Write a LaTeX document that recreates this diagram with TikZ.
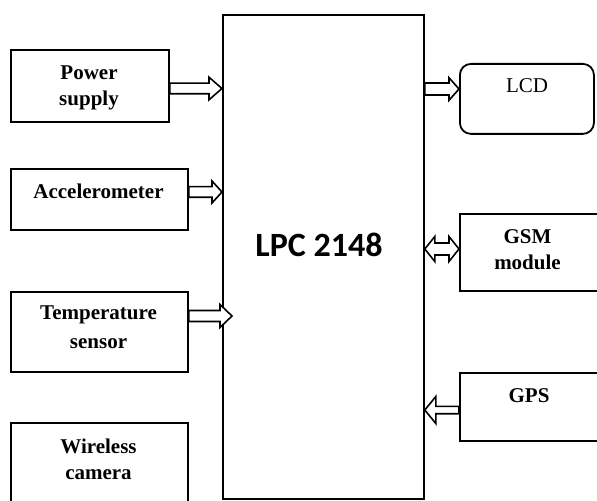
\documentclass[tikz,border=0pt]{standalone}
\usepackage{fontspec}
\setmainfont{Liberation Serif}
\newfontfamily\lpcfont{Carlito}
\usetikzlibrary{calc}
\tikzset{
  blk/.style={draw=black, line width=1.6bp, fill=white, line join=miter},
  box/.style={draw=black, line width=1.8bp, inner sep=0, anchor=north west},
  lbl/.style={font=\fontsize{21bp}{26bp}\selectfont\bfseries, inner sep=0, anchor=base},
}
% #1 start, #2 tip, #3 shaft half width, #4 head half width, #5 head length, #6 direction (1 right, -1 left)
\newcommand\blockarr[6]{%
  \draw[blk] ($(#1)+(0,-#3)$) -- ($(#2)+({-#6*#5},-#3)$) -- ($(#2)+({-#6*#5},-#4)$) -- (#2)
    -- ($(#2)+({-#6*#5},#4)$) -- ($(#2)+({-#6*#5},#3)$) -- ($(#1)+(0,#3)$) -- cycle;}
\newcommand\twoarr[5]{%
  \draw[blk] (#1) -- ($(#1)+(#5,-#4)$) -- ($(#1)+(#5,-#3)$) -- ($(#2)+(-#5,-#3)$) -- ($(#2)+(-#5,-#4)$) -- (#2)
    -- ($(#2)+(-#5,#4)$) -- ($(#2)+(-#5,#3)$) -- ($(#1)+(#5,#3)$) -- ($(#1)+(#5,#4)$) -- cycle;}
\begin{document}
\begin{tikzpicture}[x=1bp,y=-1bp]
\useasboundingbox (0,0) rectangle (597,501);
\clip (0,0) rectangle (597,501);
% central block
\node[box, minimum width=201bp, minimum height=484bp] (mcu) at (222,14) {};
\node[font=\fontsize{34bp}{40bp}\selectfont\lpcfont\bfseries, inner sep=0, anchor=base] (mcutxt) at (319,256) {LPC 2148};
% left blocks
\node[box, minimum width=158bp, minimum height=72bp] (ps) at (10,49) {};
\node[lbl] (pstxt) at (89,80) {\begin{tabular}[t]{@{}c@{}}Power\\supply\end{tabular}};
\node[box, minimum width=177bp, minimum height=61bp] (acc) at (10,168) {};
\node[lbl] (acctxt) at (98.5,198.7) {Accelerometer};
\node[box, minimum width=177bp, minimum height=80bp] (tmp) at (10,291) {};
\node[lbl] (tmptxt) at (98.5,319.3) {\begin{tabular}[t]{@{}c@{}}Temperature\\[3bp]sensor\end{tabular}};
\node[box, minimum width=177bp, minimum height=90bp] (cam) at (10,422) {};
\node[lbl] (camtxt) at (98.5,453.3) {\begin{tabular}[t]{@{}c@{}}Wireless\\camera\end{tabular}};
% right blocks
\node[box, rounded corners=11bp, minimum width=134bp, minimum height=70bp] (lcd) at (459,63) {};
\node[font=\fontsize{21bp}{26bp}\selectfont, inner sep=0, anchor=base] (lcdtxt) at (527,93) {LCD};
\node[box, minimum width=150bp, minimum height=77bp] (gsm) at (459,213) {};
\node[lbl] (gsmtxt) at (527.5,243.3) {\begin{tabular}[t]{@{}c@{}}GSM\\module\end{tabular}};
\node[box, minimum width=150bp, minimum height=68bp] (gps) at (459,372) {};
\node[lbl] (gpstxt) at (529,402) {GPS};
% connector end points
\coordinate (psA) at (ps.east |- 0,88.5);
\coordinate (psB) at (mcu.west |- 0,88.5);
\coordinate (accA) at (acc.east |- 0,192);
\coordinate (accB) at (mcu.west |- 0,192);
\coordinate (tmpA) at (tmp.east |- 0,316);
\coordinate (tmpB) at ($(mcu.west |- 0,316)+(10,0)$);
\coordinate (lcdA) at (mcu.east |- 0,89);
\coordinate (lcdB) at (lcd.west |- 0,89);
\coordinate (gsmA) at (mcu.east |- 0,249);
\coordinate (gsmB) at (gsm.west |- 0,249);
\coordinate (gpsA) at (gps.west |- 0,410);
\coordinate (gpsB) at (mcu.east |- 0,410);
% connectors
\blockarr{psA}{psB}{5.3}{11.3}{13}{1}
\blockarr{accA}{accB}{5.3}{11}{10}{1}
\blockarr{tmpA}{tmpB}{5.5}{11.5}{12}{1}
\blockarr{lcdA}{lcdB}{6}{11.3}{10}{1}
\twoarr{gsmA}{gsmB}{6}{12.5}{10}
\blockarr{gpsA}{gpsB}{3.7}{13.5}{11}{-1}
\end{tikzpicture}
\end{document}
